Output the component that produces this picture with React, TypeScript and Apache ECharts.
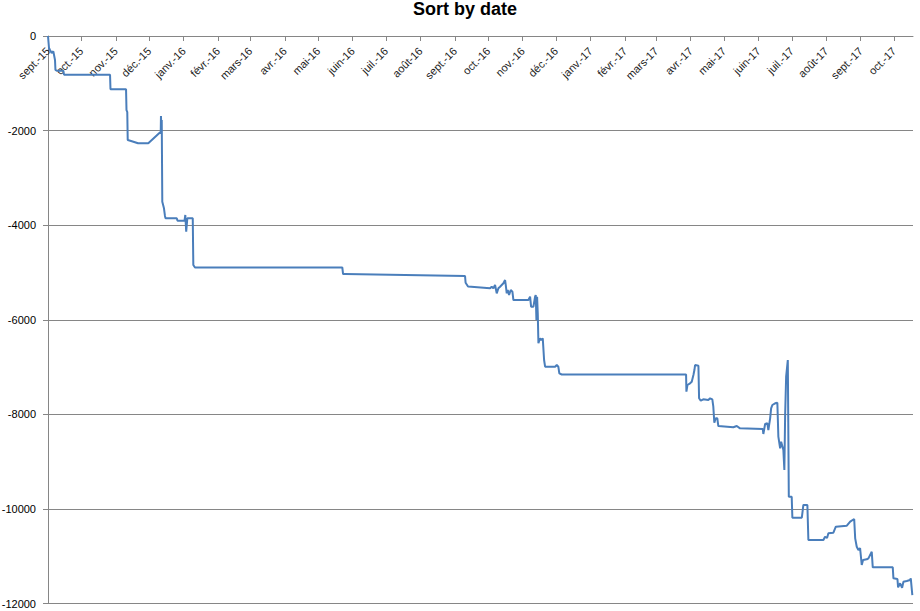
import React, { useEffect, useRef } from "react";
import * as echarts from "echarts";

const TITLE = "Sort by date";
const START_YEAR = 2015;
const START_MONTH = 8; // September (0-based)
const END_DAY = 778; // axis ends ~18 Oct 2017

const monthLabels = [
  "sept.-15", "oct.-15", "nov.-15", "déc.-15", "janv.-16", "févr.-16", "mars-16",
  "avr.-16", "mai-16", "juin-16", "juil.-16", "août-16", "sept.-16", "oct.-16",
  "nov.-16", "déc.-16", "janv.-17", "févr.-17", "mars-17", "avr.-17", "mai-17",
  "juin-17", "juil.-17", "août-17", "sept.-17", "oct.-17",
];

// days since 1 Sept 2015
const dayOffsets = [
  0, 0.9, 1.8, 3.3, 4.8, 6.3, 6.7, 7.8, 13.8, 14.4, 55.8, 56.2, 70.2, 70.6, 71.3, 71.7,
  74.7, 81.0, 90.2, 101.4, 101.6, 101.9, 102.3, 102.8, 104.3, 105.2, 105.7, 115.8, 116.5,
  122.8, 123.5, 124.3, 125.3, 130.2, 130.7, 132.2, 264.7, 265.4, 267.2, 375.1, 375.6,
  377.8, 397.6, 399.1, 400.6, 402.1, 403.6, 405.1, 406.6, 409.6, 411.1, 411.7, 412.6,
  413.5, 414.7, 416.2, 417.7, 418.6, 432.1, 433.6, 434.5, 436.6, 438.1, 438.7, 439.3,
  439.9, 440.5, 441.1, 442.0, 442.6, 443.5, 445.0, 446.2, 447.1, 456.1, 457.6, 459.0,
  459.9, 462.1, 573.9, 574.2, 575.1, 577.5, 579.0, 580.5, 581.4, 582.0, 585.0, 585.6,
  587.1, 589.4, 593.9, 595.5, 597.5, 598.4, 599.3, 600.6, 602.0, 602.9, 616.4, 619.5,
  622.4, 642.9, 643.4, 645.0, 647.0, 647.9, 649.5, 650.4, 651.5, 654.0, 656.0, 656.9,
  658.5, 659.4, 661.4, 662.3, 663.0, 663.9, 665.4, 666.3, 668.9, 669.5, 678.0, 679.4,
  683.0, 683.9, 697.4, 698.9, 700.7, 701.9, 706.4, 708.6, 718.5, 721.5, 725.1, 726.0,
  727.4, 728.9, 730.4, 731.9, 733.1, 736.4, 737.9, 740.9, 741.8, 759.8, 760.4, 764.0,
  764.6, 766.4, 768.2, 769.4, 772.4, 775.4, 776.0, 777.4,
];

const balances = [
  0, -254, -296, -359, -324, -508, -719, -734, -734, -818, -818, -1127, -1127, -1565, -1607, -2199,
  -2220, -2269, -2269, -2024, -1692, -1882, -1776, -3504, -3643, -3806, -3855, -3855, -3906,
  -3906, -3785, -4138, -3855, -3855, -4842, -4895, -4895, -5033, -5033, -5075, -5217,
  -5297, -5335, -5301, -5335, -5265, -5441, -5335, -5301, -5229, -5160, -5265, -5441,
  -5371, -5477, -5371, -5407, -5583, -5583, -5513, -5724, -5724, -5513, -5477, -6005,
  -5513, -5864, -6498, -6428, -6393, -6428, -6393, -6851, -6993, -6993, -6957, -6993,
  -7133, -7158, -7158, -7521, -7380, -7344, -7310, -7169, -7063, -6957, -6972, -7661,
  -7712, -7682, -7697, -7661, -7682, -7839, -8177, -8084, -8084, -8247, -8274, -8247,
  -8296, -8310, -8416, -8205, -8190, -8332, -8084, -7873, -7803, -7767, -7754, -8473,
  -8718, -8579, -8754, -9177, -8014, -7204, -6851, -9742, -9742, -10186, -10186, -9917,
  -9917, -10658, -10658, -10588, -10615, -10516, -10503, -10376, -10355, -10270, -10214, -10622,
  -10799, -10869, -10827, -11186, -11080, -11066, -11045, -10905, -11235, -11235, -11468, -11482,
  -11658, -11573, -11667, -11540, -11525, -11503, -11468, -11821,
];

const Y_MIN = -12000;
const Y_MAX = 0;
const Y_STEP = 2000;

const DAY = 86400000;
const FONT = '"Liberation Sans", Arial, sans-serif';
const GRID_COLOR = "#868686";

export default function App() {
  const ref = useRef<HTMLDivElement>(null);

  useEffect(() => {
    if (!ref.current) return;
    const chart = echarts.init(ref.current, null, { renderer: "svg" });
    const startTs = Date.UTC(START_YEAR, START_MONTH, 1);
    // month starts expressed as days since start date
    const tickDays = monthLabels.map((_, i) =>
      Math.round((Date.UTC(START_YEAR, START_MONTH + i, 1) - startTs) / DAY)
    );
    const labelFor = (v: number) => {
      const idx = tickDays.findIndex((t) => Math.abs(t - v) < 0.5);
      return idx >= 0 ? monthLabels[idx] : "";
    };
    const data = dayOffsets.map((d, i) => [d, balances[i]]);

    chart.setOption({
      animation: false,
      backgroundColor: "#ffffff",
      title: {
        text: TITLE,
        left: 413,
        top: 0,
        padding: 0,
        textStyle: { fontFamily: FONT, fontSize: 18, fontWeight: "bold", color: "#000" },
      },
      grid: { left: 48, right: 7, top: 36, bottom: 7.5, outerBoundsMode: "none", containLabel: false },
      xAxis: {
        type: "value",
        position: "top",
        min: 0,
        max: END_DAY,
        axisLine: { show: true, onZero: false, lineStyle: { color: GRID_COLOR, width: 1 } },
        axisTick: { show: true, inside: true, length: 5, customValues: tickDays, lineStyle: { color: GRID_COLOR } },
        axisLabel: {
          inside: true,
          rotate: -45,
          align: "right",
          verticalAlign: "middle",
          margin: 13,
          customValues: tickDays,
          formatter: (v: number) => labelFor(v),
          fontFamily: FONT,
          fontSize: 11,
          color: "#222",
        },
        splitLine: { show: false },
      },
      yAxis: {
        type: "value",
        min: Y_MIN,
        max: Y_MAX,
        interval: Y_STEP,
        axisLine: { show: true, lineStyle: { color: GRID_COLOR, width: 1 } },
        axisTick: { show: true, length: 5, lineStyle: { color: GRID_COLOR } },
        axisLabel: {
          margin: 12,
          formatter: (v: number) => String(v),
          fontFamily: FONT,
          fontSize: 11,
          color: "#000",
        },
        splitLine: { show: true, lineStyle: { color: GRID_COLOR, width: 1 } },
      },
      series: [
        {
          type: "line",
          data,
          showSymbol: false,
          symbol: "none",
          lineStyle: { color: "#4a7ebb", width: 2 },
          itemStyle: { color: "#4a7ebb" },
        },
      ],
    });
    return () => chart.dispose();
  }, []);

  return (
    <div
      ref={ref}
      style={{ position: "fixed", left: 0, top: 0, width: 920, height: 611, background: "#fff" }}
    />
  );
}
